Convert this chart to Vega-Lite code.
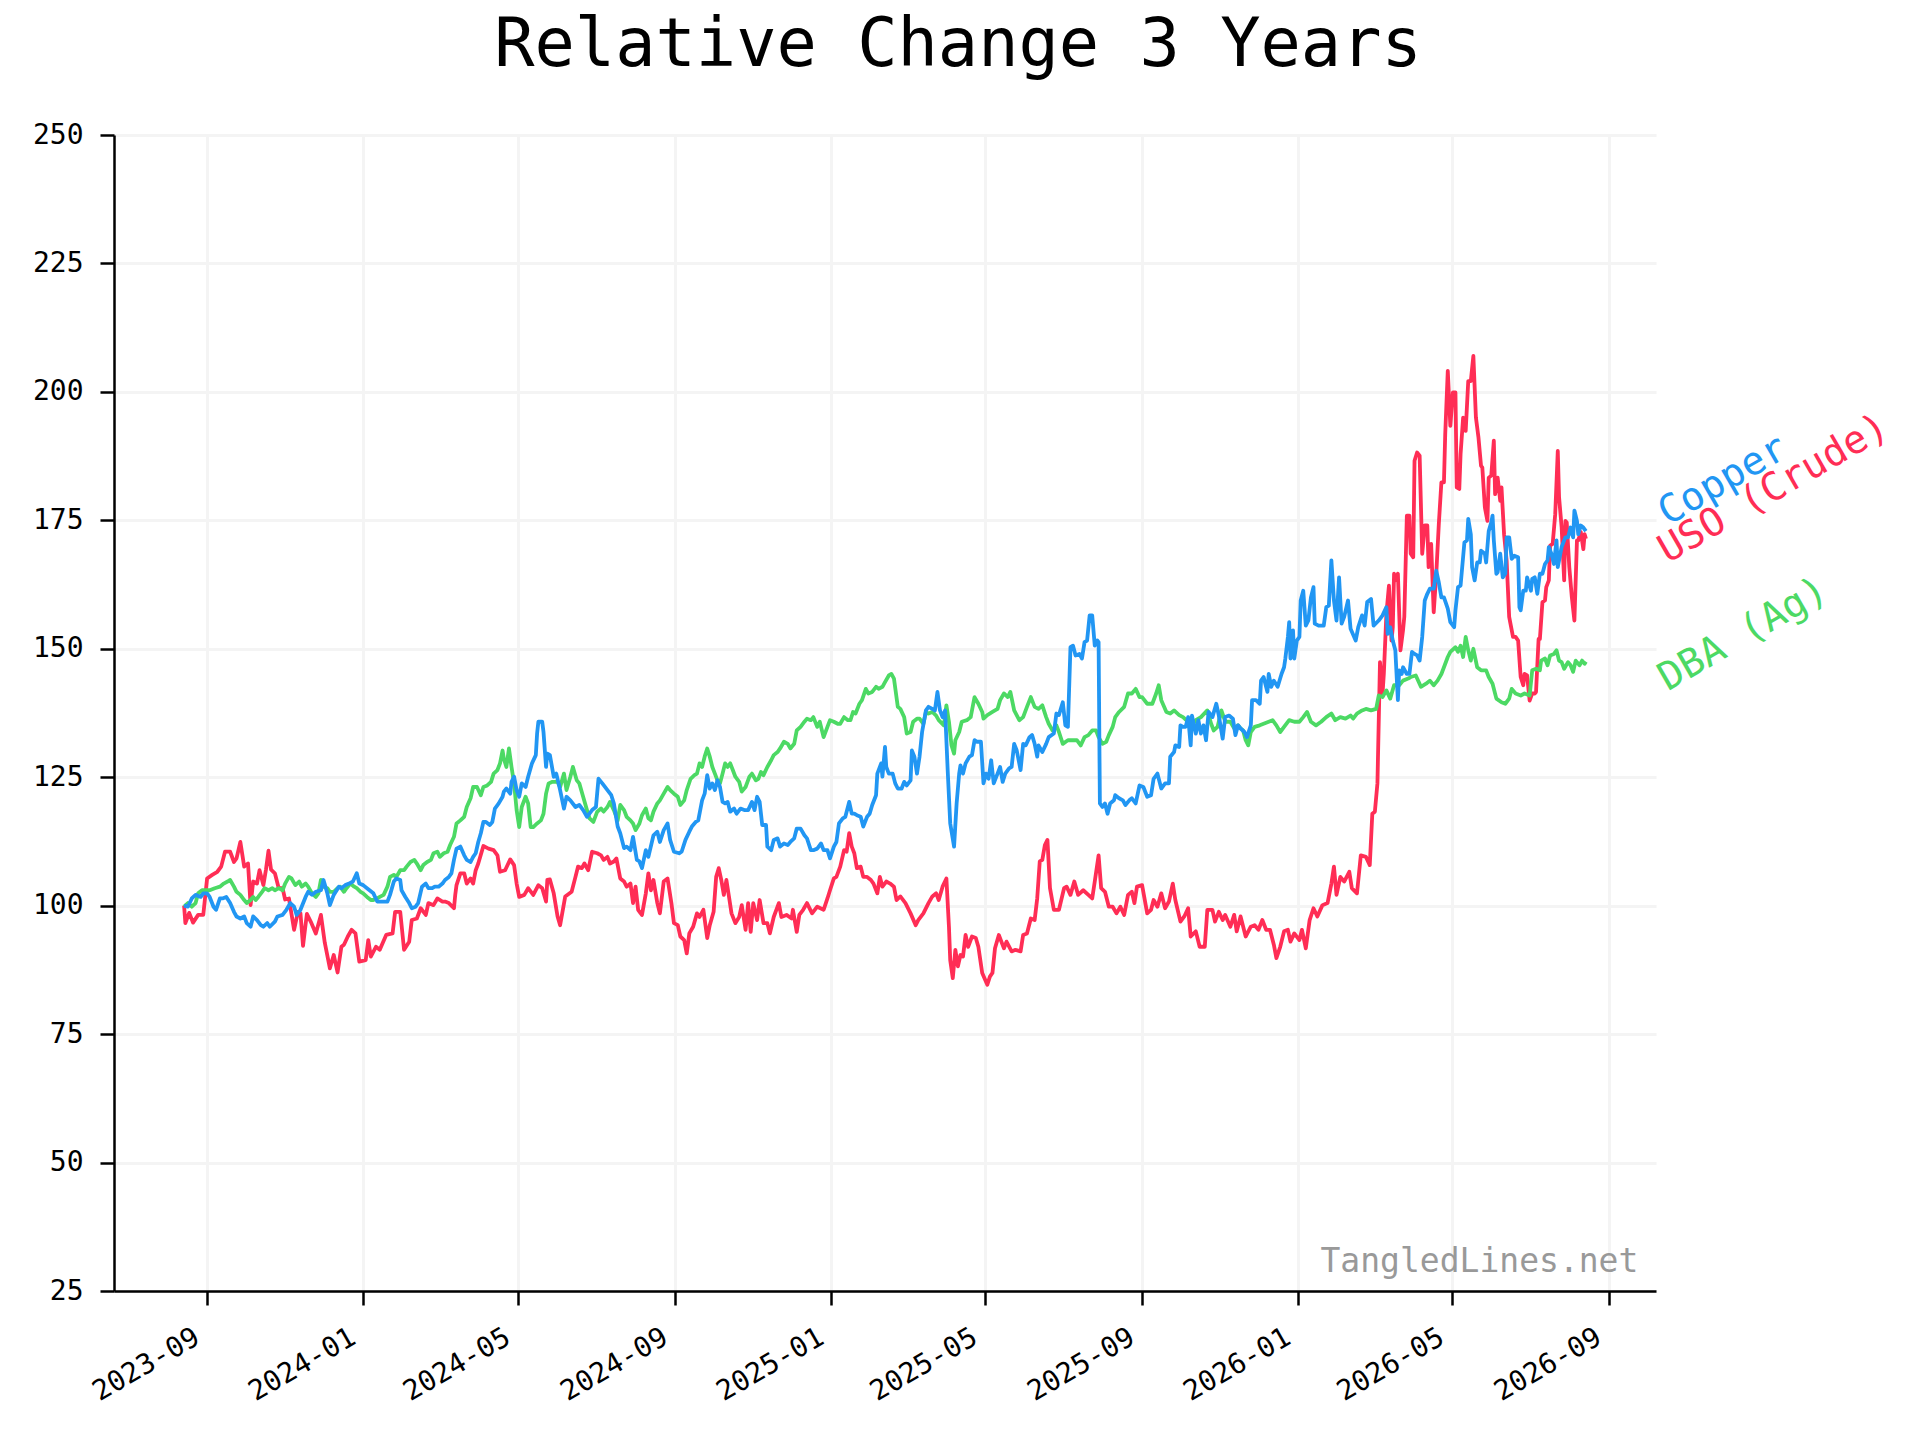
{
  "$schema": "https://vega.github.io/schema/vega-lite/v6.json",
  "description": "Relative change over 3 years of Copper, USO (Crude) and DBA (Ag), indexed to 100 at the start.",
  "autosize": {"type": "none"},
  "width": 1542,
  "height": 1156,
  "padding": {"left": 114, "top": 135, "right": 264, "bottom": 149},
  "background": "white",
  "title": {
    "text": "Relative Change 3 Years",
    "font": "DejaVu Sans Mono",
    "fontSize": 67,
    "fontWeight": "normal",
    "color": "black",
    "anchor": "middle",
    "dx": 73,
    "offset": 41
  },
  "datasets": {
    "uso": [
      {"d":"2023-08-14","v":100},{"d":"2023-08-15","v":96.6},{"d":"2023-08-18","v":98.6},{"d":"2023-08-21","v":96.7},{"d":"2023-08-25","v":98.2},{"d":"2023-08-29","v":98.2},
      {"d":"2023-09-01","v":105.3},{"d":"2023-09-05","v":106.0},{"d":"2023-09-09","v":106.6},{"d":"2023-09-12","v":107.6},{"d":"2023-09-15","v":110.5},{"d":"2023-09-19","v":110.5},{"d":"2023-09-22","v":108.5},{"d":"2023-09-24","v":109.2},{"d":"2023-09-27","v":112.4},{"d":"2023-09-30","v":107.6},
      {"d":"2023-10-03","v":108.2},{"d":"2023-10-05","v":100.1},{"d":"2023-10-07","v":104.7},{"d":"2023-10-10","v":104.3},{"d":"2023-10-12","v":106.9},{"d":"2023-10-15","v":104.0},{"d":"2023-10-17","v":107.0},{"d":"2023-10-19","v":110.7},{"d":"2023-10-21","v":107.0},{"d":"2023-10-24","v":106.3},{"d":"2023-10-27","v":103.4},{"d":"2023-10-30","v":103.4},
      {"d":"2023-11-01","v":101.2},{"d":"2023-11-04","v":101.4},{"d":"2023-11-08","v":95.3},{"d":"2023-11-11","v":98.8},{"d":"2023-11-13","v":98.5},{"d":"2023-11-15","v":92.2},{"d":"2023-11-18","v":98.4},{"d":"2023-11-21","v":96.9},{"d":"2023-11-25","v":94.6},{"d":"2023-11-29","v":98.2},
      {"d":"2023-12-02","v":92.8},{"d":"2023-12-06","v":87.8},{"d":"2023-12-09","v":90.4},{"d":"2023-12-12","v":87.0},{"d":"2023-12-15","v":92.0},{"d":"2023-12-17","v":92.4},{"d":"2023-12-20","v":94.0},{"d":"2023-12-23","v":95.3},{"d":"2023-12-26","v":94.6},{"d":"2023-12-29","v":89.1},
      {"d":"2024-01-03","v":89.4},{"d":"2024-01-05","v":93.3},{"d":"2024-01-07","v":90.1},{"d":"2024-01-11","v":92.0},{"d":"2024-01-14","v":91.4},{"d":"2024-01-19","v":94.3},{"d":"2024-01-24","v":94.6},{"d":"2024-01-26","v":98.8},{"d":"2024-01-30","v":98.8},
      {"d":"2024-02-02","v":91.4},{"d":"2024-02-06","v":93.0},{"d":"2024-02-08","v":97.2},{"d":"2024-02-12","v":97.5},{"d":"2024-02-15","v":99.5},{"d":"2024-02-19","v":98.2},{"d":"2024-02-21","v":100.5},{"d":"2024-02-25","v":100.1},{"d":"2024-02-28","v":101.4},
      {"d":"2024-03-03","v":100.8},{"d":"2024-03-05","v":100.8},{"d":"2024-03-08","v":100.5},{"d":"2024-03-12","v":99.5},{"d":"2024-03-13","v":102.1},{"d":"2024-03-14","v":104.0},{"d":"2024-03-17","v":106.3},{"d":"2024-03-20","v":106.3},{"d":"2024-03-22","v":104.3},{"d":"2024-03-25","v":105.3},{"d":"2024-03-27","v":104.3},{"d":"2024-03-29","v":106.9},{"d":"2024-03-31","v":108.2},
      {"d":"2024-04-04","v":111.6},{"d":"2024-04-08","v":111.1},{"d":"2024-04-12","v":110.8},{"d":"2024-04-15","v":109.8},{"d":"2024-04-17","v":106.6},{"d":"2024-04-21","v":106.9},{"d":"2024-04-25","v":109.0},{"d":"2024-04-28","v":107.9},{"d":"2024-04-30","v":104.3},
      {"d":"2024-05-02","v":101.7},{"d":"2024-05-06","v":102.1},{"d":"2024-05-09","v":103.4},{"d":"2024-05-13","v":102.1},{"d":"2024-05-17","v":104.0},{"d":"2024-05-20","v":103.4},{"d":"2024-05-23","v":100.8},{"d":"2024-05-24","v":105.0},{"d":"2024-05-26","v":105.1},{"d":"2024-05-29","v":102.4},
      {"d":"2024-06-01","v":97.9},{"d":"2024-06-03","v":96.2},{"d":"2024-06-07","v":101.8},{"d":"2024-06-12","v":102.7},{"d":"2024-06-15","v":105.6},{"d":"2024-06-17","v":107.6},{"d":"2024-06-20","v":107.3},{"d":"2024-06-22","v":108.2},{"d":"2024-06-25","v":106.9},{"d":"2024-06-28","v":110.5},
      {"d":"2024-07-02","v":110.2},{"d":"2024-07-05","v":109.8},{"d":"2024-07-07","v":108.9},{"d":"2024-07-10","v":109.5},{"d":"2024-07-12","v":108.2},{"d":"2024-07-15","v":108.6},{"d":"2024-07-17","v":109.2},{"d":"2024-07-20","v":105.3},{"d":"2024-07-23","v":104.7},{"d":"2024-07-25","v":103.7},{"d":"2024-07-28","v":104.3},{"d":"2024-07-30","v":100.5},
      {"d":"2024-08-01","v":103.7},{"d":"2024-08-03","v":99.2},{"d":"2024-08-05","v":98.5},{"d":"2024-08-06","v":98.2},{"d":"2024-08-09","v":102.4},{"d":"2024-08-11","v":106.3},{"d":"2024-08-13","v":103.0},{"d":"2024-08-15","v":105.0},{"d":"2024-08-18","v":100.5},{"d":"2024-08-20","v":98.5},{"d":"2024-08-23","v":104.7},{"d":"2024-08-26","v":105.3},{"d":"2024-08-29","v":100.5},{"d":"2024-08-31","v":96.6},
      {"d":"2024-09-03","v":96.2},{"d":"2024-09-05","v":94.0},{"d":"2024-09-08","v":93.3},{"d":"2024-09-10","v":90.7},{"d":"2024-09-12","v":94.6},{"d":"2024-09-15","v":95.9},{"d":"2024-09-18","v":98.5},{"d":"2024-09-20","v":97.8},{"d":"2024-09-23","v":99.2},{"d":"2024-09-26","v":93.7},{"d":"2024-09-28","v":96.2},
      {"d":"2024-10-01","v":98.8},{"d":"2024-10-03","v":105.6},{"d":"2024-10-05","v":107.3},{"d":"2024-10-07","v":105.0},{"d":"2024-10-09","v":102.1},{"d":"2024-10-11","v":105.0},{"d":"2024-10-13","v":101.8},{"d":"2024-10-15","v":98.5},{"d":"2024-10-18","v":96.6},{"d":"2024-10-21","v":97.8},{"d":"2024-10-23","v":100.1},{"d":"2024-10-26","v":95.3},{"d":"2024-10-28","v":100.5},{"d":"2024-10-30","v":94.9},
      {"d":"2024-11-01","v":100.5},{"d":"2024-11-04","v":97.2},{"d":"2024-11-06","v":101.1},{"d":"2024-11-09","v":96.6},{"d":"2024-11-12","v":96.6},{"d":"2024-11-14","v":94.6},{"d":"2024-11-17","v":97.8},{"d":"2024-11-21","v":100.5},{"d":"2024-11-23","v":97.8},{"d":"2024-11-27","v":98.2},
      {"d":"2024-12-01","v":97.5},{"d":"2024-12-02","v":99.2},{"d":"2024-12-05","v":94.9},{"d":"2024-12-07","v":98.2},{"d":"2024-12-10","v":99.2},{"d":"2024-12-13","v":100.5},{"d":"2024-12-17","v":98.5},{"d":"2024-12-21","v":99.8},{"d":"2024-12-26","v":99.2},{"d":"2024-12-29","v":101.4},{"d":"2024-12-31","v":103.0},
      {"d":"2025-01-03","v":105.3},{"d":"2025-01-05","v":105.6},{"d":"2025-01-08","v":107.6},{"d":"2025-01-11","v":110.8},{"d":"2025-01-13","v":110.5},{"d":"2025-01-15","v":114.1},{"d":"2025-01-17","v":111.5},{"d":"2025-01-19","v":110.2},{"d":"2025-01-21","v":107.3},{"d":"2025-01-24","v":107.6},{"d":"2025-01-26","v":105.6},{"d":"2025-01-29","v":105.6},
      {"d":"2025-02-01","v":105.0},{"d":"2025-02-03","v":104.3},{"d":"2025-02-06","v":102.4},{"d":"2025-02-08","v":105.6},{"d":"2025-02-10","v":103.7},{"d":"2025-02-13","v":104.7},{"d":"2025-02-16","v":104.3},{"d":"2025-02-19","v":103.7},{"d":"2025-02-21","v":101.1},{"d":"2025-02-24","v":101.8},{"d":"2025-02-28","v":100.5},
      {"d":"2025-03-04","v":98.5},{"d":"2025-03-08","v":96.2},{"d":"2025-03-10","v":97.2},{"d":"2025-03-14","v":98.5},{"d":"2025-03-18","v":100.5},{"d":"2025-03-21","v":101.8},{"d":"2025-03-24","v":102.4},{"d":"2025-03-26","v":101.1},{"d":"2025-03-29","v":103.7},
      {"d":"2025-04-01","v":105.3},{"d":"2025-04-03","v":95.9},{"d":"2025-04-04","v":89.4},{"d":"2025-04-06","v":85.9},{"d":"2025-04-08","v":91.4},{"d":"2025-04-10","v":88.2},{"d":"2025-04-12","v":90.4},{"d":"2025-04-14","v":90.1},{"d":"2025-04-16","v":94.3},{"d":"2025-04-18","v":92.0},{"d":"2025-04-21","v":94.0},{"d":"2025-04-24","v":93.7},{"d":"2025-04-26","v":92.0},{"d":"2025-04-29","v":86.9},
      {"d":"2025-05-03","v":84.6},{"d":"2025-05-05","v":86.2},{"d":"2025-05-07","v":86.9},{"d":"2025-05-09","v":91.7},{"d":"2025-05-12","v":94.3},{"d":"2025-05-16","v":91.7},{"d":"2025-05-18","v":93.0},{"d":"2025-05-22","v":91.1},{"d":"2025-05-25","v":91.4},{"d":"2025-05-29","v":91.1},{"d":"2025-05-31","v":94.3},
      {"d":"2025-06-03","v":94.6},{"d":"2025-06-06","v":97.5},{"d":"2025-06-09","v":97.2},{"d":"2025-06-11","v":101.4},{"d":"2025-06-13","v":108.6},{"d":"2025-06-15","v":108.9},{"d":"2025-06-17","v":111.8},{"d":"2025-06-19","v":112.8},{"d":"2025-06-21","v":103.4},{"d":"2025-06-24","v":99.2},{"d":"2025-06-28","v":99.2},
      {"d":"2025-07-02","v":103.4},{"d":"2025-07-04","v":103.7},{"d":"2025-07-07","v":102.1},{"d":"2025-07-10","v":104.7},{"d":"2025-07-13","v":102.1},{"d":"2025-07-17","v":103.0},{"d":"2025-07-21","v":102.1},{"d":"2025-07-24","v":101.4},{"d":"2025-07-26","v":104.7},{"d":"2025-07-29","v":109.8},{"d":"2025-07-31","v":103.4},
      {"d":"2025-08-03","v":102.7},{"d":"2025-08-06","v":99.8},{"d":"2025-08-09","v":99.8},{"d":"2025-08-12","v":98.5},{"d":"2025-08-15","v":99.8},{"d":"2025-08-18","v":98.2},{"d":"2025-08-21","v":102.1},{"d":"2025-08-24","v":102.7},{"d":"2025-08-26","v":100.5},{"d":"2025-08-28","v":103.7},
      {"d":"2025-09-01","v":104.0},{"d":"2025-09-05","v":98.5},{"d":"2025-09-08","v":99.2},{"d":"2025-09-10","v":101.1},{"d":"2025-09-13","v":99.8},{"d":"2025-09-16","v":102.4},{"d":"2025-09-19","v":99.5},{"d":"2025-09-22","v":100.8},{"d":"2025-09-25","v":104.3},{"d":"2025-09-27","v":101.1},
      {"d":"2025-10-01","v":96.9},{"d":"2025-10-04","v":97.9},{"d":"2025-10-07","v":99.5},{"d":"2025-10-09","v":94.0},{"d":"2025-10-13","v":95.0},{"d":"2025-10-16","v":92.0},{"d":"2025-10-20","v":92.0},{"d":"2025-10-22","v":99.2},{"d":"2025-10-26","v":99.2},{"d":"2025-10-28","v":96.9},{"d":"2025-10-31","v":98.8},
      {"d":"2025-11-03","v":97.2},{"d":"2025-11-05","v":98.2},{"d":"2025-11-09","v":95.9},{"d":"2025-11-12","v":98.2},{"d":"2025-11-14","v":95.0},{"d":"2025-11-17","v":97.9},{"d":"2025-11-21","v":94.0},{"d":"2025-11-25","v":95.9},{"d":"2025-11-28","v":96.2},
      {"d":"2025-12-01","v":95.3},{"d":"2025-12-04","v":97.2},{"d":"2025-12-07","v":95.3},{"d":"2025-12-10","v":95.3},{"d":"2025-12-13","v":92.4},{"d":"2025-12-15","v":89.8},{"d":"2025-12-18","v":92.0},{"d":"2025-12-21","v":95.0},{"d":"2025-12-24","v":95.3},{"d":"2025-12-26","v":93.0},{"d":"2025-12-29","v":94.6},
      {"d":"2026-01-02","v":93.3},{"d":"2026-01-04","v":95.3},{"d":"2026-01-07","v":91.7},{"d":"2026-01-10","v":97.2},{"d":"2026-01-13","v":99.5},{"d":"2026-01-16","v":97.9},{"d":"2026-01-20","v":100.1},{"d":"2026-01-24","v":100.5},{"d":"2026-01-27","v":104.3},{"d":"2026-01-29","v":107.6},{"d":"2026-01-31","v":102.1},
      {"d":"2026-02-03","v":105.6},{"d":"2026-02-06","v":104.7},{"d":"2026-02-10","v":106.6},{"d":"2026-02-12","v":103.4},{"d":"2026-02-16","v":102.4},{"d":"2026-02-19","v":109.8},{"d":"2026-02-23","v":109.5},{"d":"2026-02-26","v":107.9},{"d":"2026-02-28","v":117.9},
      {"d":"2026-03-02","v":118.3},{"d":"2026-03-04","v":123.8},{"d":"2026-03-06","v":147.4},{"d":"2026-03-08","v":141.3},{"d":"2026-03-09","v":145.1},{"d":"2026-03-11","v":156.8},{"d":"2026-03-13","v":162.3},{"d":"2026-03-15","v":151.6},{"d":"2026-03-16","v":154.2},{"d":"2026-03-17","v":164.6},{"d":"2026-03-18","v":163.3},{"d":"2026-03-20","v":164.6},{"d":"2026-03-22","v":149.7},{"d":"2026-03-24","v":153.6},{"d":"2026-03-25","v":156.2},{"d":"2026-03-27","v":175.9},{"d":"2026-03-29","v":175.9},{"d":"2026-03-30","v":168.5},
      {"d":"2026-04-01","v":167.8},{"d":"2026-04-02","v":186.6},{"d":"2026-04-04","v":188.2},{"d":"2026-04-06","v":187.6},{"d":"2026-04-08","v":168.5},{"d":"2026-04-10","v":174.0},{"d":"2026-04-12","v":174.0},{"d":"2026-04-13","v":165.9},{"d":"2026-04-15","v":170.4},{"d":"2026-04-17","v":157.1},{"d":"2026-04-19","v":164.6},{"d":"2026-04-21","v":174.3},{"d":"2026-04-23","v":182.4},{"d":"2026-04-25","v":182.4},{"d":"2026-04-26","v":191.8},{"d":"2026-04-28","v":204.1},{"d":"2026-04-30","v":193.4},
      {"d":"2026-05-02","v":199.9},{"d":"2026-05-04","v":199.9},{"d":"2026-05-05","v":181.4},{"d":"2026-05-07","v":181.1},{"d":"2026-05-08","v":187.9},{"d":"2026-05-10","v":195.0},{"d":"2026-05-12","v":192.4},{"d":"2026-05-14","v":202.1},{"d":"2026-05-16","v":202.1},{"d":"2026-05-18","v":207.0},{"d":"2026-05-20","v":195.0},{"d":"2026-05-22","v":191.1},{"d":"2026-05-24","v":185.6},{"d":"2026-05-25","v":185.3},{"d":"2026-05-27","v":177.5},{"d":"2026-05-29","v":174.9},{"d":"2026-05-30","v":183.3},
      {"d":"2026-06-01","v":183.7},{"d":"2026-06-03","v":190.5},{"d":"2026-06-04","v":180.1},{"d":"2026-06-06","v":183.3},{"d":"2026-06-08","v":178.8},{"d":"2026-06-09","v":181.4},{"d":"2026-06-11","v":172.3},{"d":"2026-06-13","v":167.2},{"d":"2026-06-15","v":156.2},{"d":"2026-06-16","v":154.9},{"d":"2026-06-18","v":152.3},{"d":"2026-06-20","v":152.3},{"d":"2026-06-22","v":151.6},{"d":"2026-06-24","v":144.5},{"d":"2026-06-26","v":142.9},{"d":"2026-06-27","v":145.1},{"d":"2026-06-29","v":144.8},
      {"d":"2026-07-01","v":139.9},{"d":"2026-07-03","v":141.3},{"d":"2026-07-05","v":141.3},{"d":"2026-07-06","v":141.6},{"d":"2026-07-08","v":151.9},{"d":"2026-07-09","v":151.9},{"d":"2026-07-11","v":159.1},{"d":"2026-07-13","v":159.4},{"d":"2026-07-14","v":162.0},{"d":"2026-07-16","v":163.3},{"d":"2026-07-17","v":170.1},{"d":"2026-07-19","v":170.4},{"d":"2026-07-21","v":176.2},{"d":"2026-07-23","v":188.5},{"d":"2026-07-24","v":179.5},{"d":"2026-07-26","v":173.7},{"d":"2026-07-28","v":163.3},{"d":"2026-07-29","v":174.9},{"d":"2026-07-30","v":174.6},
      {"d":"2026-08-01","v":165.9},{"d":"2026-08-03","v":160.0},{"d":"2026-08-05","v":155.5},{"d":"2026-08-07","v":171.1},{"d":"2026-08-08","v":171.1},{"d":"2026-08-10","v":172.7},{"d":"2026-08-12","v":169.4},{"d":"2026-08-13","v":172.3},{"d":"2026-08-14","v":171.4}
    ],
    "dba": [
      {"d":"2023-08-14","v":99.8},{"d":"2023-08-17","v":100.5},{"d":"2023-08-20","v":99.8},{"d":"2023-08-23","v":100.5},{"d":"2023-08-25","v":102.4},{"d":"2023-08-28","v":103.0},{"d":"2023-08-31","v":103.0},
      {"d":"2023-09-03","v":103.0},{"d":"2023-09-07","v":103.4},{"d":"2023-09-11","v":103.7},{"d":"2023-09-14","v":104.3},{"d":"2023-09-17","v":104.7},{"d":"2023-09-19","v":105.0},{"d":"2023-09-22","v":103.7},{"d":"2023-09-24","v":102.7},{"d":"2023-09-27","v":102.1},{"d":"2023-09-30","v":101.1},
      {"d":"2023-10-02","v":100.5},{"d":"2023-10-05","v":101.1},{"d":"2023-10-07","v":101.7},{"d":"2023-10-09","v":101.1},{"d":"2023-10-11","v":101.7},{"d":"2023-10-14","v":102.7},{"d":"2023-10-16","v":103.4},{"d":"2023-10-19","v":103.0},{"d":"2023-10-22","v":103.4},{"d":"2023-10-24","v":103.0},{"d":"2023-10-27","v":103.4},{"d":"2023-10-30","v":103.0},
      {"d":"2023-11-01","v":104.3},{"d":"2023-11-04","v":105.6},{"d":"2023-11-06","v":105.3},{"d":"2023-11-09","v":104.0},{"d":"2023-11-12","v":104.7},{"d":"2023-11-14","v":103.7},{"d":"2023-11-17","v":104.3},{"d":"2023-11-19","v":103.7},{"d":"2023-11-22","v":102.4},{"d":"2023-11-25","v":101.7},{"d":"2023-11-27","v":102.4},{"d":"2023-11-29","v":105.0},
      {"d":"2023-12-01","v":103.7},{"d":"2023-12-04","v":103.4},{"d":"2023-12-06","v":102.7},{"d":"2023-12-09","v":102.7},{"d":"2023-12-12","v":103.4},{"d":"2023-12-14","v":103.7},{"d":"2023-12-17","v":102.7},{"d":"2023-12-19","v":103.4},{"d":"2023-12-22","v":104.3},{"d":"2023-12-25","v":103.7},{"d":"2023-12-27","v":103.4},{"d":"2023-12-30","v":102.7},
      {"d":"2024-01-01","v":102.4},{"d":"2024-01-04","v":101.7},{"d":"2024-01-07","v":101.1},{"d":"2024-01-09","v":101.1},{"d":"2024-01-12","v":101.4},{"d":"2024-01-14","v":101.7},{"d":"2024-01-17","v":102.1},{"d":"2024-01-20","v":103.7},{"d":"2024-01-22","v":105.6},{"d":"2024-01-25","v":106.0},{"d":"2024-01-27","v":105.6},{"d":"2024-01-30","v":106.9},
      {"d":"2024-02-02","v":106.9},{"d":"2024-02-04","v":107.6},{"d":"2024-02-07","v":108.5},{"d":"2024-02-10","v":108.9},{"d":"2024-02-12","v":108.2},{"d":"2024-02-15","v":106.9},{"d":"2024-02-17","v":107.9},{"d":"2024-02-20","v":108.5},{"d":"2024-02-23","v":108.9},{"d":"2024-02-25","v":110.2},{"d":"2024-02-28","v":110.5},
      {"d":"2024-03-01","v":109.5},{"d":"2024-03-04","v":110.2},{"d":"2024-03-07","v":110.5},{"d":"2024-03-09","v":111.8},{"d":"2024-03-12","v":113.4},{"d":"2024-03-14","v":116.0},{"d":"2024-03-17","v":116.6},{"d":"2024-03-20","v":117.3},{"d":"2024-03-22","v":119.2},{"d":"2024-03-25","v":120.9},{"d":"2024-03-27","v":123.1},{"d":"2024-03-30","v":123.1},
      {"d":"2024-04-02","v":121.5},{"d":"2024-04-04","v":123.1},{"d":"2024-04-07","v":123.4},{"d":"2024-04-10","v":124.1},{"d":"2024-04-12","v":125.7},{"d":"2024-04-15","v":126.4},{"d":"2024-04-17","v":127.7},{"d":"2024-04-19","v":130.2},{"d":"2024-04-20","v":128.6},{"d":"2024-04-22","v":127.0},{"d":"2024-04-24","v":130.6},{"d":"2024-04-26","v":127.0},{"d":"2024-04-28","v":123.8},{"d":"2024-04-30","v":118.6},
      {"d":"2024-05-02","v":115.3},{"d":"2024-05-04","v":119.2},{"d":"2024-05-07","v":121.2},{"d":"2024-05-09","v":119.9},{"d":"2024-05-11","v":115.3},{"d":"2024-05-13","v":115.3},{"d":"2024-05-16","v":116.0},{"d":"2024-05-19","v":116.6},{"d":"2024-05-21","v":117.9},{"d":"2024-05-23","v":121.8},{"d":"2024-05-25","v":123.8},{"d":"2024-05-28","v":124.1},
      {"d":"2024-06-01","v":124.1},{"d":"2024-06-03","v":123.1},{"d":"2024-06-06","v":125.7},{"d":"2024-06-08","v":122.5},{"d":"2024-06-11","v":125.1},{"d":"2024-06-13","v":127.0},{"d":"2024-06-16","v":124.4},{"d":"2024-06-18","v":123.8},{"d":"2024-06-21","v":121.2},{"d":"2024-06-24","v":118.6},{"d":"2024-06-26","v":117.0},{"d":"2024-06-29","v":116.3},
      {"d":"2024-07-02","v":118.3},{"d":"2024-07-05","v":118.9},{"d":"2024-07-07","v":118.3},{"d":"2024-07-10","v":119.2},{"d":"2024-07-12","v":120.2},{"d":"2024-07-15","v":118.6},{"d":"2024-07-18","v":116.6},{"d":"2024-07-20","v":119.6},{"d":"2024-07-23","v":118.6},{"d":"2024-07-25","v":117.3},{"d":"2024-07-28","v":116.6},{"d":"2024-07-30","v":116.0},
      {"d":"2024-08-01","v":114.7},{"d":"2024-08-04","v":116.0},{"d":"2024-08-06","v":117.6},{"d":"2024-08-09","v":118.9},{"d":"2024-08-11","v":117.0},{"d":"2024-08-13","v":116.6},{"d":"2024-08-15","v":118.3},{"d":"2024-08-18","v":119.9},{"d":"2024-08-20","v":120.5},{"d":"2024-08-23","v":121.8},{"d":"2024-08-26","v":123.1},{"d":"2024-08-28","v":122.5},{"d":"2024-08-31","v":121.8},
      {"d":"2024-09-03","v":121.2},{"d":"2024-09-05","v":119.6},{"d":"2024-09-08","v":120.5},{"d":"2024-09-10","v":122.5},{"d":"2024-09-13","v":124.7},{"d":"2024-09-16","v":125.4},{"d":"2024-09-18","v":125.7},{"d":"2024-09-20","v":127.7},{"d":"2024-09-22","v":127.0},{"d":"2024-09-24","v":129.0},{"d":"2024-09-26","v":130.6},{"d":"2024-09-28","v":129.0},{"d":"2024-09-30","v":127.0},
      {"d":"2024-10-02","v":125.7},{"d":"2024-10-04","v":124.4},{"d":"2024-10-06","v":123.8},{"d":"2024-10-08","v":125.7},{"d":"2024-10-10","v":127.7},{"d":"2024-10-12","v":127.0},{"d":"2024-10-14","v":127.7},{"d":"2024-10-16","v":126.4},{"d":"2024-10-18","v":125.1},{"d":"2024-10-21","v":124.1},{"d":"2024-10-23","v":122.2},{"d":"2024-10-26","v":123.1},{"d":"2024-10-29","v":125.1},{"d":"2024-10-31","v":125.7},
      {"d":"2024-11-03","v":124.4},{"d":"2024-11-05","v":124.7},{"d":"2024-11-07","v":126.0},{"d":"2024-11-09","v":125.4},{"d":"2024-11-12","v":127.0},{"d":"2024-11-15","v":128.3},{"d":"2024-11-17","v":129.3},{"d":"2024-11-20","v":129.9},{"d":"2024-11-22","v":130.6},{"d":"2024-11-25","v":131.9},{"d":"2024-11-28","v":131.5},{"d":"2024-11-30","v":130.6},
      {"d":"2024-12-03","v":131.5},{"d":"2024-12-05","v":134.1},{"d":"2024-12-08","v":134.8},{"d":"2024-12-11","v":135.8},{"d":"2024-12-13","v":136.4},{"d":"2024-12-16","v":136.1},{"d":"2024-12-18","v":136.7},{"d":"2024-12-21","v":134.8},{"d":"2024-12-23","v":135.8},{"d":"2024-12-26","v":132.8},{"d":"2024-12-29","v":134.8},{"d":"2024-12-31","v":136.1},
      {"d":"2025-01-03","v":135.8},{"d":"2025-01-06","v":135.4},{"d":"2025-01-08","v":135.4},{"d":"2025-01-11","v":136.7},{"d":"2025-01-14","v":136.1},{"d":"2025-01-16","v":136.1},{"d":"2025-01-18","v":137.7},{"d":"2025-01-20","v":137.4},{"d":"2025-01-23","v":139.3},{"d":"2025-01-25","v":140.0},{"d":"2025-01-28","v":142.2},{"d":"2025-01-30","v":141.3},
      {"d":"2025-02-02","v":141.6},{"d":"2025-02-05","v":142.6},{"d":"2025-02-07","v":142.2},{"d":"2025-02-10","v":142.6},{"d":"2025-02-12","v":143.5},{"d":"2025-02-15","v":144.8},{"d":"2025-02-17","v":145.1},{"d":"2025-02-19","v":144.2},{"d":"2025-02-22","v":138.7},{"d":"2025-02-24","v":138.3},{"d":"2025-02-27","v":136.7},
      {"d":"2025-03-01","v":133.5},{"d":"2025-03-04","v":133.8},{"d":"2025-03-06","v":135.8},{"d":"2025-03-09","v":136.4},{"d":"2025-03-11","v":136.4},{"d":"2025-03-14","v":135.4},{"d":"2025-03-16","v":137.7},{"d":"2025-03-18","v":137.4},{"d":"2025-03-21","v":137.7},{"d":"2025-03-24","v":137.0},{"d":"2025-03-26","v":136.1},{"d":"2025-03-30","v":135.1},
      {"d":"2025-04-01","v":139.0},{"d":"2025-04-03","v":135.8},{"d":"2025-04-05","v":131.2},{"d":"2025-04-07","v":129.6},{"d":"2025-04-08","v":132.2},{"d":"2025-04-11","v":133.8},{"d":"2025-04-13","v":135.8},{"d":"2025-04-17","v":136.1},{"d":"2025-04-20","v":136.7},{"d":"2025-04-23","v":140.6},{"d":"2025-04-26","v":139.3},{"d":"2025-04-29","v":137.7},{"d":"2025-04-30","v":136.4},
      {"d":"2025-05-03","v":137.1},{"d":"2025-05-07","v":137.7},{"d":"2025-05-11","v":138.3},{"d":"2025-05-13","v":140.0},{"d":"2025-05-16","v":141.3},{"d":"2025-05-19","v":140.6},{"d":"2025-05-21","v":141.6},{"d":"2025-05-24","v":138.0},{"d":"2025-05-28","v":136.1},{"d":"2025-05-31","v":136.7},
      {"d":"2025-06-03","v":138.7},{"d":"2025-06-06","v":140.6},{"d":"2025-06-09","v":138.7},{"d":"2025-06-12","v":138.3},{"d":"2025-06-15","v":139.0},{"d":"2025-06-18","v":136.7},{"d":"2025-06-20","v":135.4},{"d":"2025-06-23","v":134.1},{"d":"2025-06-26","v":135.1},{"d":"2025-06-28","v":133.8},
      {"d":"2025-07-01","v":131.5},{"d":"2025-07-05","v":132.2},{"d":"2025-07-09","v":132.2},{"d":"2025-07-12","v":132.2},{"d":"2025-07-15","v":131.2},{"d":"2025-07-18","v":132.8},{"d":"2025-07-21","v":133.2},{"d":"2025-07-24","v":134.1},{"d":"2025-07-27","v":134.1},{"d":"2025-07-29","v":132.8},
      {"d":"2025-08-01","v":131.5},{"d":"2025-08-04","v":131.9},{"d":"2025-08-06","v":133.2},{"d":"2025-08-09","v":134.8},{"d":"2025-08-11","v":136.7},{"d":"2025-08-14","v":137.7},{"d":"2025-08-18","v":138.7},{"d":"2025-08-21","v":141.3},{"d":"2025-08-24","v":141.3},{"d":"2025-08-27","v":142.2},{"d":"2025-08-30","v":140.6},
      {"d":"2025-09-01","v":140.6},{"d":"2025-09-05","v":139.3},{"d":"2025-09-09","v":139.3},{"d":"2025-09-12","v":141.3},{"d":"2025-09-14","v":142.9},{"d":"2025-09-16","v":140.0},{"d":"2025-09-20","v":137.7},{"d":"2025-09-23","v":137.4},{"d":"2025-09-26","v":138.0},{"d":"2025-09-30","v":137.1},
      {"d":"2025-10-03","v":136.7},{"d":"2025-10-07","v":135.8},{"d":"2025-10-10","v":135.1},{"d":"2025-10-13","v":136.1},{"d":"2025-10-17","v":136.7},{"d":"2025-10-22","v":138.0},{"d":"2025-10-25","v":135.4},{"d":"2025-10-27","v":134.1},{"d":"2025-10-30","v":134.8},
      {"d":"2025-11-02","v":138.0},{"d":"2025-11-05","v":135.8},{"d":"2025-11-09","v":135.8},{"d":"2025-11-12","v":134.5},{"d":"2025-11-15","v":135.1},{"d":"2025-11-17","v":134.5},{"d":"2025-11-19","v":134.1},{"d":"2025-11-21","v":132.2},{"d":"2025-11-23","v":131.2},{"d":"2025-11-25","v":133.8},{"d":"2025-11-28","v":134.8},
      {"d":"2025-12-02","v":135.1},{"d":"2025-12-05","v":135.4},{"d":"2025-12-09","v":135.8},{"d":"2025-12-12","v":136.1},{"d":"2025-12-15","v":135.1},{"d":"2025-12-18","v":133.8},{"d":"2025-12-21","v":134.8},{"d":"2025-12-25","v":136.1},{"d":"2025-12-29","v":135.8},
      {"d":"2026-01-02","v":135.8},{"d":"2026-01-05","v":136.7},{"d":"2026-01-08","v":137.7},{"d":"2026-01-11","v":135.8},{"d":"2026-01-15","v":135.1},{"d":"2026-01-19","v":135.8},{"d":"2026-01-23","v":136.7},{"d":"2026-01-27","v":137.4},{"d":"2026-01-30","v":136.1},
      {"d":"2026-02-03","v":136.7},{"d":"2026-02-07","v":136.4},{"d":"2026-02-11","v":137.0},{"d":"2026-02-13","v":136.4},{"d":"2026-02-16","v":137.4},{"d":"2026-02-20","v":138.0},{"d":"2026-02-23","v":138.3},{"d":"2026-02-27","v":138.0},
      {"d":"2026-03-03","v":138.3},{"d":"2026-03-05","v":140.9},{"d":"2026-03-08","v":140.6},{"d":"2026-03-11","v":141.9},{"d":"2026-03-14","v":140.3},{"d":"2026-03-17","v":142.9},{"d":"2026-03-21","v":142.9},{"d":"2026-03-24","v":143.8},{"d":"2026-03-28","v":144.2},{"d":"2026-03-30","v":144.5},
      {"d":"2026-04-03","v":144.8},{"d":"2026-04-07","v":142.6},{"d":"2026-04-11","v":143.2},{"d":"2026-04-14","v":143.8},{"d":"2026-04-17","v":142.9},{"d":"2026-04-20","v":143.8},{"d":"2026-04-23","v":145.1},{"d":"2026-04-25","v":146.4},{"d":"2026-04-28","v":148.4},{"d":"2026-04-30","v":149.4},
      {"d":"2026-05-04","v":150.3},{"d":"2026-05-06","v":149.4},{"d":"2026-05-08","v":150.6},{"d":"2026-05-10","v":148.4},{"d":"2026-05-12","v":152.3},{"d":"2026-05-14","v":149.7},{"d":"2026-05-16","v":147.7},{"d":"2026-05-18","v":150.0},{"d":"2026-05-21","v":146.4},{"d":"2026-05-24","v":145.8},{"d":"2026-05-28","v":145.8},{"d":"2026-05-30","v":144.5},
      {"d":"2026-06-02","v":143.2},{"d":"2026-06-05","v":140.3},{"d":"2026-06-09","v":139.6},{"d":"2026-06-12","v":139.3},{"d":"2026-06-15","v":140.3},{"d":"2026-06-17","v":142.2},{"d":"2026-06-20","v":141.3},{"d":"2026-06-24","v":140.9},{"d":"2026-06-27","v":141.3},
      {"d":"2026-07-01","v":140.9},{"d":"2026-07-03","v":145.8},{"d":"2026-07-06","v":146.1},{"d":"2026-07-09","v":145.8},{"d":"2026-07-10","v":147.7},{"d":"2026-07-13","v":148.1},{"d":"2026-07-15","v":146.8},{"d":"2026-07-17","v":148.7},{"d":"2026-07-20","v":149.0},{"d":"2026-07-22","v":149.7},{"d":"2026-07-24","v":147.7},{"d":"2026-07-26","v":147.4},{"d":"2026-07-28","v":146.1},{"d":"2026-07-31","v":147.4},
      {"d":"2026-08-02","v":146.8},{"d":"2026-08-04","v":145.5},{"d":"2026-08-06","v":147.7},{"d":"2026-08-09","v":146.8},{"d":"2026-08-11","v":147.7},{"d":"2026-08-13","v":147.1},{"d":"2026-08-14","v":147.5}
    ],
    "copper": [
      {"d":"2023-08-14","v":100},{"d":"2023-08-17","v":99.8},{"d":"2023-08-20","v":101.4},{"d":"2023-08-23","v":102.1},{"d":"2023-08-27","v":101.7},{"d":"2023-08-29","v":102.4},
      {"d":"2023-09-01","v":102.4},{"d":"2023-09-03","v":101.7},{"d":"2023-09-06","v":99.8},{"d":"2023-09-08","v":99.2},{"d":"2023-09-11","v":101.4},{"d":"2023-09-13","v":101.4},{"d":"2023-09-16","v":101.7},{"d":"2023-09-19","v":100.5},{"d":"2023-09-22","v":98.8},{"d":"2023-09-24","v":97.9},{"d":"2023-09-27","v":97.5},{"d":"2023-09-30","v":97.9},
      {"d":"2023-10-02","v":96.6},{"d":"2023-10-05","v":95.9},{"d":"2023-10-07","v":97.9},{"d":"2023-10-10","v":97.2},{"d":"2023-10-13","v":96.2},{"d":"2023-10-15","v":95.9},{"d":"2023-10-18","v":96.6},{"d":"2023-10-20","v":95.9},{"d":"2023-10-24","v":96.9},{"d":"2023-10-26","v":97.9},{"d":"2023-10-30","v":98.2},
      {"d":"2023-11-02","v":99.2},{"d":"2023-11-05","v":100.5},{"d":"2023-11-08","v":99.8},{"d":"2023-11-10","v":98.2},{"d":"2023-11-13","v":99.2},{"d":"2023-11-17","v":101.7},{"d":"2023-11-19","v":102.7},{"d":"2023-11-22","v":102.1},{"d":"2023-11-25","v":102.7},{"d":"2023-11-29","v":103.0},
      {"d":"2023-12-01","v":105.0},{"d":"2023-12-04","v":102.4},{"d":"2023-12-06","v":100.1},{"d":"2023-12-09","v":102.1},{"d":"2023-12-13","v":103.7},{"d":"2023-12-15","v":103.4},{"d":"2023-12-18","v":104.0},{"d":"2023-12-21","v":104.3},{"d":"2023-12-24","v":104.7},{"d":"2023-12-27","v":106.3},{"d":"2023-12-29","v":104.3},
      {"d":"2024-01-01","v":104.0},{"d":"2024-01-04","v":103.4},{"d":"2024-01-06","v":103.0},{"d":"2024-01-09","v":102.4},{"d":"2024-01-12","v":100.8},{"d":"2024-01-14","v":100.8},{"d":"2024-01-17","v":100.8},{"d":"2024-01-20","v":100.8},{"d":"2024-01-22","v":102.1},{"d":"2024-01-25","v":104.7},{"d":"2024-01-27","v":105.3},{"d":"2024-01-30","v":105.0},{"d":"2024-01-31","v":103.0},
      {"d":"2024-02-03","v":101.7},{"d":"2024-02-06","v":100.5},{"d":"2024-02-08","v":99.5},{"d":"2024-02-11","v":99.8},{"d":"2024-02-13","v":100.5},{"d":"2024-02-16","v":103.7},{"d":"2024-02-19","v":104.3},{"d":"2024-02-21","v":103.4},{"d":"2024-02-24","v":103.4},{"d":"2024-02-26","v":103.7},{"d":"2024-02-29","v":103.7},
      {"d":"2024-03-03","v":104.3},{"d":"2024-03-05","v":105.0},{"d":"2024-03-08","v":105.6},{"d":"2024-03-10","v":106.3},{"d":"2024-03-12","v":108.9},{"d":"2024-03-14","v":111.1},{"d":"2024-03-17","v":111.5},{"d":"2024-03-20","v":109.8},{"d":"2024-03-22","v":108.9},{"d":"2024-03-25","v":108.5},{"d":"2024-03-27","v":109.5},{"d":"2024-03-29","v":110.2},{"d":"2024-03-31","v":112.4},
      {"d":"2024-04-02","v":114.1},{"d":"2024-04-04","v":116.3},{"d":"2024-04-06","v":116.3},{"d":"2024-04-09","v":115.7},{"d":"2024-04-11","v":116.3},{"d":"2024-04-13","v":118.9},{"d":"2024-04-16","v":119.9},{"d":"2024-04-19","v":121.2},{"d":"2024-04-20","v":122.2},{"d":"2024-04-22","v":122.8},{"d":"2024-04-25","v":121.8},{"d":"2024-04-26","v":124.1},{"d":"2024-04-28","v":125.1},{"d":"2024-04-30","v":122.5},
      {"d":"2024-05-02","v":121.2},{"d":"2024-05-04","v":123.8},{"d":"2024-05-07","v":123.1},{"d":"2024-05-09","v":125.1},{"d":"2024-05-12","v":127.7},{"d":"2024-05-15","v":129.3},{"d":"2024-05-16","v":133.5},{"d":"2024-05-17","v":135.8},{"d":"2024-05-20","v":135.8},{"d":"2024-05-21","v":133.8},{"d":"2024-05-23","v":127.0},{"d":"2024-05-24","v":129.6},{"d":"2024-05-26","v":129.3},{"d":"2024-05-29","v":125.1},{"d":"2024-05-31","v":125.7},
      {"d":"2024-06-03","v":122.5},{"d":"2024-06-06","v":118.9},{"d":"2024-06-08","v":121.2},{"d":"2024-06-11","v":120.5},{"d":"2024-06-15","v":119.2},{"d":"2024-06-18","v":119.6},{"d":"2024-06-21","v":118.6},{"d":"2024-06-24","v":117.3},{"d":"2024-06-28","v":118.6},
      {"d":"2024-07-01","v":119.2},{"d":"2024-07-03","v":124.7},{"d":"2024-07-06","v":123.8},{"d":"2024-07-10","v":122.5},{"d":"2024-07-13","v":121.5},{"d":"2024-07-15","v":119.9},{"d":"2024-07-18","v":115.4},{"d":"2024-07-20","v":114.1},{"d":"2024-07-23","v":111.2},{"d":"2024-07-25","v":111.5},{"d":"2024-07-28","v":110.8},{"d":"2024-07-30","v":113.4},
      {"d":"2024-08-02","v":108.9},{"d":"2024-08-04","v":108.6},{"d":"2024-08-06","v":107.3},{"d":"2024-08-09","v":110.8},{"d":"2024-08-11","v":109.5},{"d":"2024-08-15","v":113.7},{"d":"2024-08-18","v":114.4},{"d":"2024-08-20","v":112.4},{"d":"2024-08-23","v":114.7},{"d":"2024-08-26","v":116.0},{"d":"2024-08-28","v":112.8},{"d":"2024-08-31","v":110.5},
      {"d":"2024-09-04","v":110.2},{"d":"2024-09-06","v":110.5},{"d":"2024-09-09","v":112.8},{"d":"2024-09-12","v":114.4},{"d":"2024-09-14","v":115.4},{"d":"2024-09-17","v":116.3},{"d":"2024-09-19","v":116.6},{"d":"2024-09-22","v":120.5},{"d":"2024-09-24","v":121.8},{"d":"2024-09-26","v":125.4},{"d":"2024-09-28","v":122.8},{"d":"2024-09-30","v":123.8},
      {"d":"2024-10-02","v":122.5},{"d":"2024-10-04","v":124.4},{"d":"2024-10-06","v":123.1},{"d":"2024-10-08","v":120.2},{"d":"2024-10-10","v":119.9},{"d":"2024-10-12","v":120.2},{"d":"2024-10-14","v":118.3},{"d":"2024-10-17","v":118.9},{"d":"2024-10-19","v":117.9},{"d":"2024-10-22","v":118.9},{"d":"2024-10-25","v":118.6},{"d":"2024-10-28","v":118.6},{"d":"2024-10-31","v":120.2},
      {"d":"2024-11-02","v":118.6},{"d":"2024-11-04","v":121.2},{"d":"2024-11-06","v":120.2},{"d":"2024-11-08","v":115.7},{"d":"2024-11-11","v":115.7},{"d":"2024-11-12","v":111.5},{"d":"2024-11-15","v":110.8},{"d":"2024-11-17","v":112.8},{"d":"2024-11-20","v":113.1},{"d":"2024-11-22","v":111.5},{"d":"2024-11-25","v":112.1},{"d":"2024-11-28","v":111.8},{"d":"2024-11-30","v":112.4},
      {"d":"2024-12-03","v":113.1},{"d":"2024-12-05","v":115.0},{"d":"2024-12-08","v":115.0},{"d":"2024-12-11","v":113.7},{"d":"2024-12-13","v":113.1},{"d":"2024-12-16","v":110.8},{"d":"2024-12-18","v":110.8},{"d":"2024-12-21","v":111.1},{"d":"2024-12-24","v":112.1},{"d":"2024-12-26","v":110.8},{"d":"2024-12-29","v":110.8},{"d":"2024-12-31","v":109.2},
      {"d":"2025-01-03","v":111.5},{"d":"2025-01-05","v":112.4},{"d":"2025-01-07","v":116.0},{"d":"2025-01-10","v":117.0},{"d":"2025-01-12","v":117.3},{"d":"2025-01-15","v":120.2},{"d":"2025-01-17","v":117.9},{"d":"2025-01-19","v":117.9},{"d":"2025-01-21","v":117.6},{"d":"2025-01-24","v":117.3},{"d":"2025-01-26","v":115.4},{"d":"2025-01-29","v":117.3},{"d":"2025-01-31","v":117.9},
      {"d":"2025-02-02","v":119.6},{"d":"2025-02-05","v":121.5},{"d":"2025-02-06","v":125.7},{"d":"2025-02-09","v":127.7},{"d":"2025-02-10","v":125.1},{"d":"2025-02-12","v":130.9},{"d":"2025-02-13","v":127.0},{"d":"2025-02-15","v":125.7},{"d":"2025-02-18","v":125.7},{"d":"2025-02-20","v":123.8},{"d":"2025-02-22","v":122.8},{"d":"2025-02-25","v":122.8},{"d":"2025-02-27","v":124.1},
      {"d":"2025-03-01","v":123.4},{"d":"2025-03-04","v":124.4},{"d":"2025-03-05","v":130.2},{"d":"2025-03-07","v":129.0},{"d":"2025-03-09","v":125.7},{"d":"2025-03-11","v":129.0},{"d":"2025-03-13","v":133.8},{"d":"2025-03-16","v":138.0},{"d":"2025-03-18","v":138.7},{"d":"2025-03-21","v":138.3},{"d":"2025-03-23","v":138.0},{"d":"2025-03-25","v":141.6},{"d":"2025-03-27","v":138.0},{"d":"2025-03-29","v":136.7},{"d":"2025-03-31","v":138.0},
      {"d":"2025-04-02","v":126.4},{"d":"2025-04-04","v":116.0},{"d":"2025-04-07","v":111.5},{"d":"2025-04-09","v":119.9},{"d":"2025-04-11","v":125.7},{"d":"2025-04-12","v":127.3},{"d":"2025-04-14","v":125.7},{"d":"2025-04-16","v":127.7},{"d":"2025-04-19","v":129.0},{"d":"2025-04-21","v":129.3},{"d":"2025-04-23","v":132.2},{"d":"2025-04-25","v":131.9},{"d":"2025-04-28","v":131.9},{"d":"2025-04-30","v":123.8},
      {"d":"2025-05-02","v":125.7},{"d":"2025-05-04","v":124.7},{"d":"2025-05-06","v":128.3},{"d":"2025-05-08","v":123.8},{"d":"2025-05-11","v":125.7},{"d":"2025-05-13","v":127.0},{"d":"2025-05-15","v":124.1},{"d":"2025-05-17","v":125.7},{"d":"2025-05-20","v":126.7},{"d":"2025-05-22","v":127.0},{"d":"2025-05-24","v":131.5},{"d":"2025-05-26","v":130.2},{"d":"2025-05-29","v":126.4},{"d":"2025-05-31","v":131.5},
      {"d":"2025-06-02","v":131.2},{"d":"2025-06-05","v":132.8},{"d":"2025-06-07","v":133.2},{"d":"2025-06-09","v":131.5},{"d":"2025-06-11","v":129.0},{"d":"2025-06-12","v":131.2},{"d":"2025-06-15","v":129.9},{"d":"2025-06-18","v":131.5},{"d":"2025-06-20","v":132.8},{"d":"2025-06-24","v":133.5},{"d":"2025-06-26","v":137.4},{"d":"2025-06-28","v":137.1},
      {"d":"2025-07-01","v":139.6},{"d":"2025-07-03","v":135.1},{"d":"2025-07-05","v":134.8},{"d":"2025-07-07","v":150.3},{"d":"2025-07-09","v":150.6},{"d":"2025-07-11","v":148.7},{"d":"2025-07-14","v":149.0},{"d":"2025-07-16","v":148.1},{"d":"2025-07-18","v":151.3},{"d":"2025-07-20","v":151.6},{"d":"2025-07-22","v":156.5},{"d":"2025-07-24","v":156.5},{"d":"2025-07-26","v":150.6},{"d":"2025-07-28","v":151.6},{"d":"2025-07-29","v":151.3},{"d":"2025-07-30","v":119.9},
      {"d":"2025-08-01","v":119.2},{"d":"2025-08-03","v":119.9},{"d":"2025-08-05","v":117.9},{"d":"2025-08-07","v":119.9},{"d":"2025-08-10","v":120.5},{"d":"2025-08-11","v":121.5},{"d":"2025-08-14","v":120.9},{"d":"2025-08-17","v":120.5},{"d":"2025-08-19","v":119.6},{"d":"2025-08-22","v":120.5},{"d":"2025-08-24","v":120.9},{"d":"2025-08-27","v":119.9},{"d":"2025-08-30","v":123.4},
      {"d":"2025-09-02","v":123.1},{"d":"2025-09-05","v":121.2},{"d":"2025-09-08","v":121.5},{"d":"2025-09-10","v":124.7},{"d":"2025-09-13","v":125.7},{"d":"2025-09-16","v":122.8},{"d":"2025-09-19","v":123.8},{"d":"2025-09-22","v":123.8},{"d":"2025-09-23","v":129.0},{"d":"2025-09-26","v":129.9},{"d":"2025-09-27","v":131.2},{"d":"2025-09-30","v":130.9},
      {"d":"2025-10-01","v":135.1},{"d":"2025-10-03","v":134.8},{"d":"2025-10-05","v":134.8},{"d":"2025-10-07","v":136.7},{"d":"2025-10-09","v":131.2},{"d":"2025-10-10","v":137.0},{"d":"2025-10-13","v":133.5},{"d":"2025-10-15","v":136.1},{"d":"2025-10-17","v":133.5},{"d":"2025-10-19","v":135.1},{"d":"2025-10-21","v":132.2},{"d":"2025-10-23","v":137.7},{"d":"2025-10-26","v":136.7},{"d":"2025-10-29","v":139.3},{"d":"2025-10-31","v":137.0},
      {"d":"2025-11-03","v":132.5},{"d":"2025-11-05","v":136.7},{"d":"2025-11-08","v":137.0},{"d":"2025-11-11","v":136.4},{"d":"2025-11-13","v":133.2},{"d":"2025-11-15","v":135.1},{"d":"2025-11-17","v":134.5},{"d":"2025-11-20","v":133.8},{"d":"2025-11-22","v":132.8},{"d":"2025-11-25","v":135.1},{"d":"2025-11-26","v":140.0},{"d":"2025-11-29","v":140.0},
      {"d":"2025-12-02","v":139.3},{"d":"2025-12-03","v":143.8},{"d":"2025-12-05","v":144.5},{"d":"2025-12-08","v":141.6},{"d":"2025-12-09","v":145.1},{"d":"2025-12-11","v":142.6},{"d":"2025-12-13","v":143.8},{"d":"2025-12-16","v":142.6},{"d":"2025-12-19","v":145.1},{"d":"2025-12-21","v":146.4},{"d":"2025-12-22","v":148.1},{"d":"2025-12-24","v":152.3},{"d":"2025-12-25","v":155.2},{"d":"2025-12-26","v":148.1},{"d":"2025-12-28","v":153.6},{"d":"2025-12-29","v":148.1},{"d":"2025-12-31","v":151.6},
      {"d":"2026-01-02","v":152.3},{"d":"2026-01-03","v":159.4},{"d":"2026-01-05","v":161.3},{"d":"2026-01-07","v":154.5},{"d":"2026-01-09","v":155.5},{"d":"2026-01-11","v":160.0},{"d":"2026-01-13","v":162.0},{"d":"2026-01-14","v":154.9},{"d":"2026-01-17","v":154.5},{"d":"2026-01-21","v":154.5},{"d":"2026-01-23","v":158.1},{"d":"2026-01-25","v":158.4},{"d":"2026-01-27","v":167.2},{"d":"2026-01-29","v":159.4},{"d":"2026-01-31","v":155.5},
      {"d":"2026-02-02","v":163.9},{"d":"2026-02-04","v":154.9},{"d":"2026-02-06","v":156.2},{"d":"2026-02-09","v":159.4},{"d":"2026-02-11","v":153.9},{"d":"2026-02-15","v":151.6},{"d":"2026-02-17","v":154.2},{"d":"2026-02-20","v":156.5},{"d":"2026-02-22","v":154.5},{"d":"2026-02-24","v":159.1},{"d":"2026-02-27","v":159.7},
      {"d":"2026-03-01","v":154.5},{"d":"2026-03-05","v":155.5},{"d":"2026-03-08","v":156.5},{"d":"2026-03-11","v":158.1},{"d":"2026-03-12","v":152.9},{"d":"2026-03-14","v":154.2},{"d":"2026-03-16","v":151.6},{"d":"2026-03-18","v":149.7},{"d":"2026-03-20","v":140.0},{"d":"2026-03-21","v":145.8},{"d":"2026-03-23","v":145.1},{"d":"2026-03-24","v":146.4},{"d":"2026-03-27","v":145.1},{"d":"2026-03-29","v":145.1},{"d":"2026-03-31","v":149.4},
      {"d":"2026-04-02","v":149.0},{"d":"2026-04-04","v":148.7},{"d":"2026-04-06","v":147.7},{"d":"2026-04-08","v":152.3},{"d":"2026-04-10","v":159.4},{"d":"2026-04-12","v":160.7},{"d":"2026-04-14","v":161.7},{"d":"2026-04-17","v":161.7},{"d":"2026-04-19","v":165.2},{"d":"2026-04-21","v":162.9},{"d":"2026-04-23","v":160.0},{"d":"2026-04-25","v":160.0},{"d":"2026-04-28","v":157.8},{"d":"2026-04-30","v":155.2},
      {"d":"2026-05-03","v":154.2},{"d":"2026-05-04","v":157.5},{"d":"2026-05-06","v":162.0},{"d":"2026-05-08","v":162.3},{"d":"2026-05-11","v":170.7},{"d":"2026-05-13","v":171.1},{"d":"2026-05-14","v":175.3},{"d":"2026-05-16","v":172.3},{"d":"2026-05-17","v":165.9},{"d":"2026-05-19","v":163.3},{"d":"2026-05-21","v":166.8},{"d":"2026-05-23","v":166.8},{"d":"2026-05-24","v":169.1},{"d":"2026-05-27","v":168.5},{"d":"2026-05-28","v":166.8},{"d":"2026-05-30","v":172.9},
      {"d":"2026-06-01","v":174.6},{"d":"2026-06-02","v":175.9},{"d":"2026-06-03","v":171.1},{"d":"2026-06-05","v":164.6},{"d":"2026-06-06","v":164.9},{"d":"2026-06-08","v":168.5},{"d":"2026-06-10","v":163.9},{"d":"2026-06-12","v":164.6},{"d":"2026-06-13","v":171.7},{"d":"2026-06-15","v":171.7},{"d":"2026-06-17","v":167.5},{"d":"2026-06-19","v":168.1},{"d":"2026-06-22","v":167.8},{"d":"2026-06-23","v":158.1},{"d":"2026-06-24","v":157.5},{"d":"2026-06-26","v":161.3},{"d":"2026-06-28","v":161.3},{"d":"2026-06-29","v":163.9},
      {"d":"2026-07-02","v":161.3},{"d":"2026-07-03","v":163.6},{"d":"2026-07-05","v":163.9},{"d":"2026-07-07","v":160.7},{"d":"2026-07-09","v":164.6},{"d":"2026-07-11","v":164.6},{"d":"2026-07-13","v":166.5},{"d":"2026-07-15","v":167.2},{"d":"2026-07-16","v":169.8},{"d":"2026-07-18","v":168.5},{"d":"2026-07-20","v":166.5},{"d":"2026-07-22","v":171.1},{"d":"2026-07-23","v":165.9},{"d":"2026-07-26","v":169.8},{"d":"2026-07-28","v":171.1},{"d":"2026-07-29","v":171.7},{"d":"2026-07-31","v":171.7},
      {"d":"2026-08-02","v":173.6},{"d":"2026-08-04","v":171.7},{"d":"2026-08-05","v":176.9},{"d":"2026-08-07","v":174.9},{"d":"2026-08-08","v":172.3},{"d":"2026-08-10","v":174.0},{"d":"2026-08-12","v":173.6},{"d":"2026-08-14","v":172.9}
    ],
    "labels": [
      {"d":"2026-10-17","v":173.9,"s":"Copper"},
      {"d":"2026-10-17","v":166.6,"s":"USO (Crude)"},
      {"d":"2026-10-17","v":141.7,"s":"DBA (Ag)"}
    ],
    "credit": [
      {"d":"2026-09-24","v":28.7,"t":"TangledLines.net"}
    ]
  },
  "encoding": {
    "x": {
      "field": "d",
      "type": "temporal",
      "title": null,
      "scale": {
        "domain": [
          {"year": 2023, "month": 6, "date": 20, "hours": 5},
          {"year": 2026, "month": 10, "date": 7, "hours": 19}
        ]
      },
      "axis": {
        "values": [
          {"year": 2023, "month": 9, "date": 1},
          {"year": 2024, "month": 1, "date": 1},
          {"year": 2024, "month": 5, "date": 1},
          {"year": 2024, "month": 9, "date": 1},
          {"year": 2025, "month": 1, "date": 1},
          {"year": 2025, "month": 5, "date": 1},
          {"year": 2025, "month": 9, "date": 1},
          {"year": 2026, "month": 1, "date": 1},
          {"year": 2026, "month": 5, "date": 1},
          {"year": 2026, "month": 9, "date": 1}
        ],
        "format": "%Y-%m",
        "labelAngle": -30,
        "labelAlign": "right",
        "labelBaseline": "top",
        "labelPadding": 18,
        "labelOffset": -17,
        "labelFlush": false,
        "labelOverlap": false
      }
    },
    "y": {
      "field": "v",
      "type": "quantitative",
      "title": null,
      "scale": {"domain": [25, 250], "nice": false, "zero": false},
      "axis": {
        "values": [25, 50, 75, 100, 125, 150, 175, 200, 225, 250],
        "format": "d",
        "labelPadding": 17
      }
    }
  },
  "layer": [
    {
      "data": {"name": "uso"},
      "mark": {"type": "line", "color": "#FF2D55", "strokeWidth": 3.8, "strokeJoin": "round"}
    },
    {
      "data": {"name": "dba"},
      "mark": {"type": "line", "color": "#4CD964", "strokeWidth": 3.8, "strokeJoin": "round"}
    },
    {
      "data": {"name": "copper"},
      "mark": {"type": "line", "color": "#2196F3", "strokeWidth": 3.8, "strokeJoin": "round"}
    },
    {
      "data": {"name": "labels"},
      "mark": {"type": "text", "align": "left", "baseline": "alphabetic", "angle": 330, "font": "DejaVu Sans Mono", "fontSize": 39},
      "encoding": {
        "text": {"field": "s"},
        "color": {
          "field": "s",
          "type": "nominal",
          "scale": {"domain": ["Copper", "USO (Crude)", "DBA (Ag)"], "range": ["#2196F3", "#FF2D55", "#4CD964"]},
          "legend": null
        }
      }
    },
    {
      "data": {"name": "credit"},
      "mark": {"type": "text", "align": "right", "baseline": "alphabetic", "font": "DejaVu Sans Mono", "fontSize": 33, "color": "#999999"},
      "encoding": {"text": {"field": "t"}}
    }
  ],
  "config": {
    "view": {"stroke": null},
    "font": "DejaVu Sans Mono",
    "axis": {
      "domainColor": "black",
      "domainWidth": 2.5,
      "tickColor": "black",
      "tickWidth": 2.5,
      "tickSize": 14,
      "labelFont": "DejaVu Sans Mono",
      "labelFontSize": 28,
      "labelColor": "black",
      "gridColor": "#f4f4f4",
      "gridWidth": 3
    }
  }
}
